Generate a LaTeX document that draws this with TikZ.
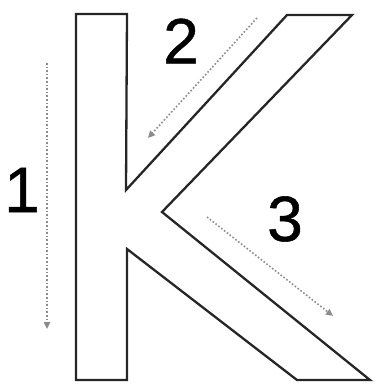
\documentclass[tikz,border=0pt]{standalone}
\usepackage{fontspec}
\setmainfont{Liberation Sans}
\newfontface\numfont[FakeBold=0.8]{Liberation Sans}
\usetikzlibrary{arrows.meta}
\begin{document}
\begin{tikzpicture}[x=1pt,y=-1pt,
  outline/.style={draw=black!85,line width=2.3pt,line join=miter},
  guide/.style={draw=black!45,line width=1.6pt,dotted,-{Triangle[length=7pt,width=6.5pt]}},
  num/.style={font=\numfont\fontsize{64}{64}\selectfont,text=black,inner sep=0pt}]
\useasboundingbox (0,0) rectangle (375,385);
\draw[outline] (76,14) -- (127,14) -- (126,190) -- (287,15) -- (352,15)
  -- (162,212) -- (370,380) -- (297,380) -- (127,249) -- (127,380) -- (76,380) -- cycle;
\coordinate (a1s) at (47,63);  \coordinate (a1e) at (47,329);
\coordinate (a2s) at (257,18); \coordinate (a2e) at (148,138);
\coordinate (a3s) at (207,217);\coordinate (a3e) at (333,316);
\draw[guide] (a1s) -- (a1e);
\draw[guide] (a2s) -- (a2e);
\draw[guide] (a3s) -- (a3e);
\node[num] (n1) at (22,190) {1};
\node[num] (n2) at (181,41) {2};
\node[num] (n3) at (285,219) {3};
\end{tikzpicture}
\end{document}
